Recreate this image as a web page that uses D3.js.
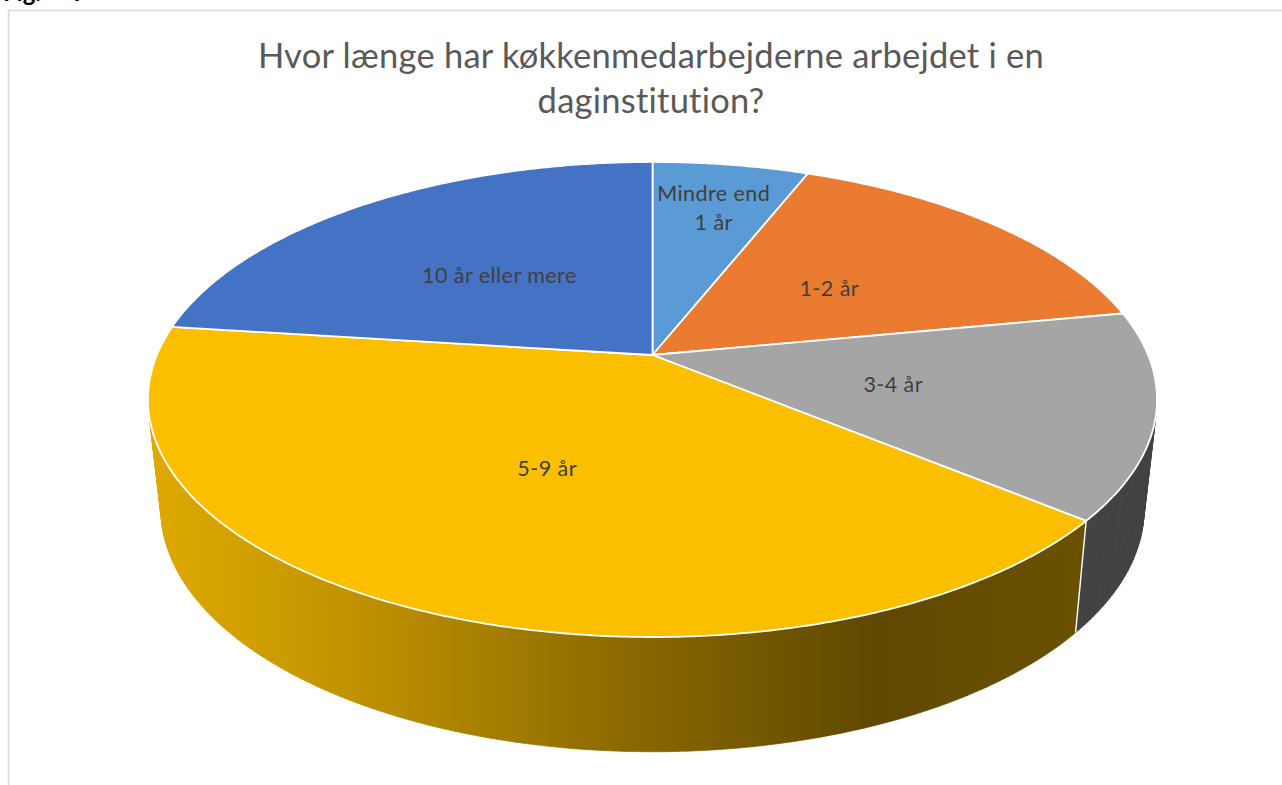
<!DOCTYPE html>
<html><head><meta charset="utf-8">
<style>html,body{margin:0;padding:0;background:#fff;overflow:hidden}svg{display:block}</style>
<script src="https://cdn.jsdelivr.net/npm/d3@7/dist/d3.min.js"></script>
</head><body>
<svg id="c" width="1282" height="785"></svg>
<script>
const categories = ["Mindre end 1 år","1-2 år","3-4 år","5-9 år","10 år eller mere"];
const shares = [6,16,14,41,23];
const sliceColors = ["#5b9bd5","#eb7b30","#a5a5a5","#fbbf00","#4472c4"];
const titleLines = ["Hvor længe har køkkenmedarbejderne arbejdet i en","daginstitution?"];
const labelRadius = [0.75,0.49,0.49,0.49,0.5];
const wallStops = [[150,"#dfa900"],[300,"#c99900"],[420,"#b48900"],[600,"#8f6d00"],[780,"#705500"],[875,"#5f4800"],[1076,"#6a5100"]];

const svg = d3.select("#c");
const defs = svg.append("defs");
const grad = defs.append("linearGradient").attr("id","wall").attr("gradientUnits","userSpaceOnUse")
  .attr("x1",150).attr("x2",1076).attr("y1",0).attr("y2",0);
wallStops.forEach(s=>grad.append("stop").attr("offset",(s[0]-150)/926).attr("stop-color",s[1]));

// frame
svg.append("path").attr("d","M8.5,785V10.5H1282").attr("fill","none").attr("stroke","#d9d9d9").attr("stroke-width",1.6);
svg.append("text").attr("x",3).attr("y",1).attr("font-family","Lato").attr("font-weight",700).attr("font-size",24)
  .attr("word-spacing",26).attr("fill","#000").text("Fig. 7");

// perspective planes: a unit disc projected with a homography
const k = 0.1873;
const topPlane = {cx:652.5, cy:355, a:495.6, b:229.2, k};
const botPlane = {cx:652.5, cy:463, a:482.6, b:233.9, k:0.19};
function project(p,u,v){const w=1-p.k*v;return [p.cx+p.a*u/w,p.cy+p.b*v/w];}
const rim=(p,ang,r=1)=>project(p,r*Math.sin(ang),-r*Math.cos(ang));

const arcs = d3.pie().sort(null).value(d=>d)(shares);
const line = d3.line();
const wallFill = i => i===3 ? "url(#wall)" : "#434343";

// walls (front-facing strips only)
const walls = svg.append("g");
arcs.forEach((d,i)=>{
  if(i!==2 && i!==3) return;
  const n=Math.ceil((d.endAngle-d.startAngle)*90);
  const as=d3.range(n+1).map(j=>d.startAngle+(d.endAngle-d.startAngle)*j/n);
  let path="";
  for(let j=0;j<n;j++){
    const q=[rim(topPlane,as[j]),rim(topPlane,as[j+1]),rim(botPlane,as[j+1]),rim(botPlane,as[j])];
    if(d3.polygonArea(q)>0) path+=line(q)+"Z";
  }
  walls.append("path").attr("d",path).attr("fill",wallFill(i)).attr("stroke",wallFill(i)).attr("stroke-width",0.7);
});
// edge between the two visible walls
const edgeAng=arcs[3].startAngle;
svg.append("path").attr("d",line([rim(topPlane,edgeAng),rim(botPlane,edgeAng)])).attr("stroke","#fff").attr("stroke-width",1.4).attr("fill","none");

// top face
svg.append("g").selectAll("path").data(arcs).join("path")
  .attr("d",d=>{
    const n=Math.ceil((d.endAngle-d.startAngle)*120);
    const pts=[project(topPlane,0,0)];
    for(let j=0;j<=n;j++) pts.push(rim(topPlane,d.startAngle+(d.endAngle-d.startAngle)*j/n));
    return line(pts)+"Z";
  })
  .attr("fill",(d,i)=>sliceColors[i]).attr("stroke","#fff").attr("stroke-width",1.8).attr("stroke-linejoin","round");

// labels
const labels = svg.append("g").attr("font-family","Lato").attr("font-size",21.5).attr("letter-spacing",0.45).attr("fill","#404040").attr("text-anchor","middle");
arcs.forEach((d,i)=>{
  const mid=(d.startAngle+d.endAngle)/2;
  const p=rim(topPlane,mid,labelRadius[i]);
  const parts=d.value<10?["Mindre end","1 år"]:[categories[i]];
  parts.forEach((t,j)=>labels.append("text").attr("x",p[0]).attr("y",p[1]+8.5+(j-(parts.length-1)/2)*29).text(t));
});

// title
svg.append("g").attr("font-family","Lato").attr("font-size",34.5).attr("letter-spacing",0.24).attr("fill","#595959").attr("text-anchor","middle")
  .selectAll("text").data(titleLines).join("text")
  .attr("x",651).attr("y",(d,i)=>68+i*45).text(d=>d);
</script>
</body></html>
